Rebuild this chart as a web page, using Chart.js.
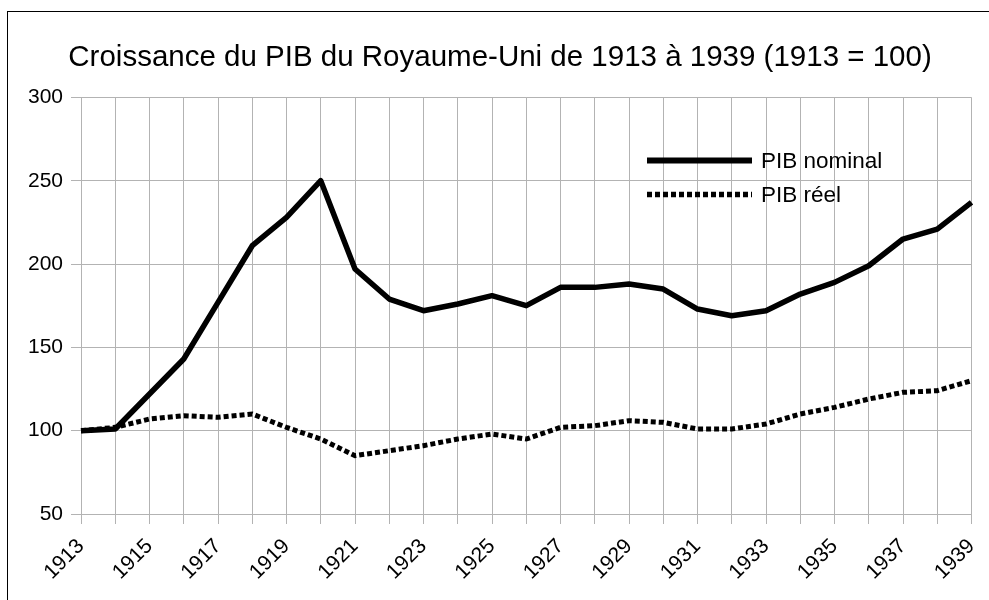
<!DOCTYPE html>
<html>
<head>
<meta charset="utf-8">
<script src="https://cdn.jsdelivr.net/npm/chart.js@4/dist/chart.umd.min.js"></script>
<style>
  html, body { margin: 0; padding: 0; background: #fff; overflow: hidden; }
  #wrap { position: relative; width: 989px; height: 600px; }
  #frame { position: absolute; left: 7px; top: 11px; width: 2000px; height: 2000px;
           border-left: 1.5px solid #000; border-top: 1.5px solid #000; pointer-events: none; }
  canvas { display: block; }
</style>
</head>
<body>
<div id="wrap">
  <canvas id="c" width="989" height="600" style="width:989px;height:600px"></canvas>
  <div id="frame"></div>
</div>
<script>
const titleText = "Croissance du PIB du Royaume-Uni de 1913 à 1939 (1913 = 100)";
const years = ["1913","1914","1915","1916","1917","1918","1919","1920","1921","1922","1923","1924","1925","1926","1927","1928","1929","1930","1931","1932","1933","1934","1935","1936","1937","1938","1939"];
const seriesNames = ["PIB nominal", "PIB réel"];
const pibNominal = [100, 101, 122, 143, 177, 211, 228, 250, 197, 179, 172, 176, 181, 175, 186, 186, 188, 185, 173, 169, 172, 182, 189, 199, 215, 221, 237];
const pibReel = [100, 102, 107, 109, 108, 110, 102, 95, 85, 88, 91, 95, 98, 95, 102, 103, 106, 105, 101, 101, 104, 110, 114, 119, 123, 124, 130];
const yMin = 50, yMax = 300, yStep = 50;

const FONT = "'Liberation Sans', Arial, sans-serif";
const GRID = "#b3b3b3";

const legendPlugin = {
  id: 'insideLegend',
  afterDatasetsDraw(chart) {
    const ctx = chart.ctx;
    const ca = chart.chartArea;
    const x0 = ca.left + 566, x1 = ca.left + 671, tx = ca.left + 680;
    let y = ca.top + 63;
    ctx.save();
    chart.data.datasets.forEach(ds => {
      ctx.beginPath();
      ctx.strokeStyle = ds.borderColor;
      ctx.lineWidth = ds.legendWidth || ds.borderWidth;
      ctx.setLineDash(ds.borderDash || []);
      ctx.lineCap = 'butt';
      ctx.moveTo(x0, y);
      ctx.lineTo(x1, y);
      ctx.stroke();
      ctx.setLineDash([]);
      ctx.fillStyle = '#000';
      ctx.font = "22.5px " + FONT;
      ctx.textAlign = 'left';
      ctx.textBaseline = 'middle';
      ctx.fillText(ds.label, tx, y + 1);
      y += 34;
    });
    ctx.restore();
  }
};

new Chart(document.getElementById('c'), {
  type: 'line',
  data: {
    labels: years,
    datasets: [
      { label: seriesNames[0], data: pibNominal, borderColor: '#000', borderWidth: 5.5, legendWidth: 6,
        pointRadius: 0, tension: 0, fill: false, borderJoinStyle: 'round' },
      { label: seriesNames[1], data: pibReel, borderColor: '#000', borderWidth: 5, legendWidth: 5.5,
        borderDash: [5, 3], pointRadius: 0, tension: 0, fill: false }
    ]
  },
  options: {
    responsive: false,
    animation: false,
    devicePixelRatio: 1,
    layout: { padding: { left: 28.5, right: 17.5, top: 0, bottom: 0 } },
    plugins: {
      legend: { display: false },
      tooltip: { enabled: false },
      title: {
        display: true,
        text: titleText,
        color: '#000',
        font: { family: FONT, size: 29.5, weight: 'normal', lineHeight: 1.2 },
        padding: { top: 40.5, bottom: 21.5 }
      }
    },
    scales: {
      x: {
        offset: false,
        grid: { color: GRID, lineWidth: 1, tickLength: 10, drawTicks: true },
        border: { color: GRID, width: 1 },
        ticks: {
          autoSkip: false,
          minRotation: 45, maxRotation: 45,
          color: '#000',
          font: { family: FONT, size: 21 },
          padding: 10,
          callback: (v, i) => (i % 2 === 0 ? years[i] : '')
        },
        afterFit: (s) => { s.height = 86; s.paddingLeft = 0; s.paddingRight = 0; }
      },
      y: {
        min: yMin, max: yMax,
        grid: { color: GRID, lineWidth: 1, tickLength: 10 },
        border: { color: GRID, width: 1 },
        ticks: { stepSize: yStep, color: '#000', font: { family: FONT, size: 21 }, padding: 8 },
        afterFit: (s) => { s.width = 52.5; }
      }
    }
  },
  plugins: [legendPlugin]
});
</script>
</body>
</html>
